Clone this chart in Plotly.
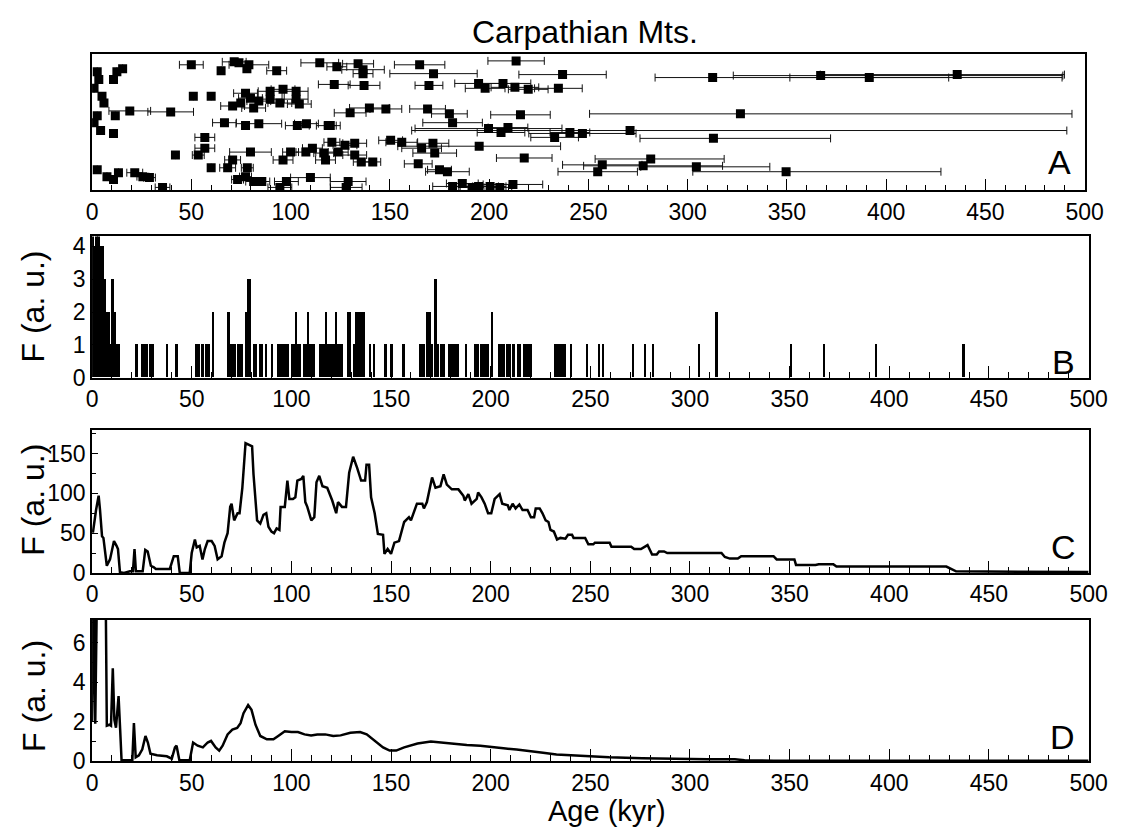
import plotly.graph_objects as go

# ---------------- Panel A: individual ages with uncertainties ----------------
a_age = [2.6, 3.4, 1.0, 5.0, 6.0, 12.5, 15.4, 10.8, 2.6, 1.0, 4.3, 10.8, 11.7, 19, 39.6,
         51, 60, 50, 65, 71.6, 74, 79, 78, 93, 114.7, 122, 77.3, 79.8, 84, 74.9,
         70.8, 81.4, 89.7, 96.2, 102.8, 89.7, 94.6, 102.8, 104.4, 66.7, 77.3, 84, 108, 119, 103.4,
         56.8, 56.8, 53.5, 42, 79.8, 70.8, 68.3, 60, 78.2, 77.3, 73.3, 96.2, 100, 107.7, 111,
         116.7, 117.6, 2.6, 7.5, 10.8, 13.3, 21.5, 25.6, 28.9, 35.5, 81.4, 85.5, 94.6, 97.9, 110,
         123.3, 134, 136.5, 136.5, 165, 172, 213.6, 237, 137, 169.7, 194.7, 198, 207, 213, 219.7,
         234.9, 130, 139.7, 148, 169, 180, 181.6, 215.8, 120, 199.7, 209.5, 206, 233, 240.7, 150.4,
         156, 171.7, 166, 172.6, 195, 217.7, 120.8, 127.4, 132.3, 124, 132.3, 135.6, 141.4, 164.3, 175,
         179, 129, 128, 181.6, 186.5, 191.4, 194.7, 200.5, 205.4, 212, 312.6, 367, 391.5, 435.8, 326.6,
         271, 247, 313, 281.4, 257, 277.6, 304.4, 254.7, 349.6]
a_err_minus = [0, 0, 0, 0, 0, 0, 0, 0, 0, 0, 0, 0, 0, 10.5, 11.5,
               0, 0, 6, 0, 6, 0, 10, 0, 5, 9.5, 8, 6, 6, 6, 0,
               6, 6, 6, 6, 6, 6, 6, 6, 6, 6, 0, 11.5, 6, 6, 6,
               5, 5, 3, 0, 10.5, 4, 4, 0, 3, 3, 3, 5, 4, 5, 5,
               5, 5, 0, 0, 0, 0, 4, 3, 3, 3.7, 4, 4, 6, 6, 10,
               5, 7.8, 10.7, 5, 12.7, 22, 14.2, 22, 8, 7, 12, 10, 14, 12, 10,
               12, 8, 10, 8, 9, 9, 15, 15, 3, 37, 10, 12, 12, 10, 6,
               8, 8, 10, 11, 41, 14, 4, 6, 6, 5, 6, 4, 4, 7, 6,
               11, 9, 8, 10, 8, 6, 10, 8, 6, 15, 29, 44, 40, 69, 76,
               110, 27, 37, 28, 20, 30, 28, 20, 47]
a_err_plus = [0, 0, 0, 0, 0, 0, 0, 0, 0, 0, 0, 0, 0, 10.5, 11.5,
              0, 0, 6, 0, 6, 0, 10, 0, 5, 9.5, 8, 6, 6, 6, 0,
              6, 6, 6, 6, 6, 6, 6, 6, 6, 6, 0, 11.5, 6, 6, 6,
              5, 5, 3, 0, 10.5, 4, 4, 0, 3, 3, 3, 5, 4, 5, 5,
              5, 5, 0, 0, 0, 0, 4, 3, 3, 3.7, 4, 4, 6, 6, 10,
              5, 7.8, 10.7, 5, 12.7, 22, 14.2, 22, 8, 7, 12, 10, 14, 12, 10,
              12, 8, 10, 8, 9, 9, 15, 15, 3, 37, 10, 12, 12, 10, 6,
              8, 8, 10, 11, 41, 14, 4, 6, 6, 5, 6, 4, 4, 7, 6,
              11, 9, 8, 10, 8, 6, 10, 8, 6, 15, 176, 122, 40, 54, 167,
              220, 27, 59, 37, 20, 40, 37, 20, 78]
a_row = [121, 113, 104, 96, 89, 121, 124, 113, 76, 69, 61, 58, 76, 81, 80,
         96, 96, 128, 122, 131, 130, 128, 124, 122, 130, 108, 99, 94, 91, 89,
         86, 84, 101, 103, 101, 93, 89, 93, 88, 69, 66, 68, 68, 66, 66,
         54, 43, 36, 36, 39, 31, 23, 23, 23, 14, 11, 31, 39, 39, 43,
         38, 31, 21, 14, 11, 18, 18, 14, 13, 3, 9, 9, 3, 9, 13,
         126, 129, 123, 119, 128, 119, 132, 118, 107, 107, 109, 104, 109, 105, 103,
         104, 79, 84, 83, 83, 78, 69, 77, 66, 63, 64, 59, 54, 59, 51,
         49, 48, 43, 38, 45, 33, 49, 46, 48, 39, 36, 29, 29, 27, 21,
         19, 9, 3, 4, 7, 3, 4, 4, 3, 6, 115, 117, 115, 118, 78,
         61, 58, 53, 32, 26, 25, 24, 19, 19]

# ---------------- Panel B: number of ages per 1-kyr bin ----------------
b_age = [0, 1, 2, 3, 4, 5, 6, 7, 8, 9, 10, 11, 12, 13,
         22, 25, 26, 27, 29, 30, 37, 42, 52, 53, 55, 57, 58, 60,
         68, 69, 70, 71, 73, 74, 75, 77, 78, 79, 81, 82, 84, 85, 87, 90,
         93, 94, 95, 96, 97, 98, 100, 101, 102, 103, 104, 106, 107, 108, 109, 110, 111,
         114, 115, 116, 117, 118, 119, 120, 121, 122, 123, 124, 125,
         128, 129, 131, 132, 133, 134, 135, 136, 139, 141, 147, 150, 156,
         164, 165, 166, 168, 169, 170, 172, 173, 175, 176, 179, 180, 181, 182, 183, 187,
         192, 193, 195, 196, 197, 198, 200, 204, 205, 206, 208, 209, 211, 213, 214,
         216, 217, 218, 219, 220, 232, 233, 234, 235, 236, 237, 240, 248, 254, 256,
         271, 277, 281, 304, 313, 350, 367, 393, 437]
b_count = [5, 4, 5, 5, 4, 4, 3, 2, 2, 1, 3, 2, 1, 1,
           1, 1, 1, 1, 1, 1, 1, 1, 1, 1, 1, 1, 1, 2,
           2, 1, 1, 1, 1, 1, 1, 2, 3, 3, 1, 1, 1, 1, 1, 1,
           1, 1, 1, 1, 1, 1, 1, 1, 2, 1, 1, 1, 1, 2, 1, 1, 1,
           1, 1, 1, 2, 1, 1, 1, 1, 2, 1, 1, 1,
           2, 2, 1, 2, 2, 2, 2, 2, 1, 1, 1, 1, 1,
           1, 1, 1, 2, 2, 1, 3, 1, 1, 1, 1, 1, 1, 1, 1, 1,
           1, 1, 1, 1, 1, 1, 2, 1, 1, 1, 1, 1, 1, 1, 1,
           1, 1, 1, 1, 1, 1, 1, 1, 1, 1, 1, 1, 1, 1, 1,
           1, 1, 1, 1, 2, 1, 1, 1, 1]

# ---------------- Panel C: running sum ----------------
c_age = [0, 0.5, 2, 3.3, 4, 5, 5.7, 7.4, 9, 11, 12.3, 13, 14, 16, 19, 20.5, 21.3, 22, 25.4, 26.7,
         27.9, 29.5, 31, 32, 39, 41, 43, 44, 49, 50, 51.6, 52.5, 54, 55.4, 56.6, 58, 60, 61.5, 63, 65,
         66.4, 68, 69.3, 70, 71.3, 73, 74, 75.4, 77, 78.7, 80.3, 81, 82.8, 84.4, 86, 87.4, 88.5, 90, 91.3, 92.6,
         94, 94.6, 96.7, 98, 99, 100.8, 102, 103, 105, 106, 107, 108, 110, 111.5, 112.6, 114, 115.6, 118, 120.5, 122.5,
         123.4, 125.4, 127.4, 129, 131, 133, 135, 137, 137.7, 139, 140, 141.8, 143.4, 146, 146.7, 148.3, 150, 151.7, 154, 156.6,
         159, 160, 161.6, 163, 165.7, 166.5, 168, 170.6, 172.3, 174.8, 176.4, 178, 180.5, 183.8, 186.3, 187, 188.8, 190.4, 193, 193.7,
         195.4, 197, 198.7, 200.3, 202, 204.5, 205.8, 208.6, 209.4, 211, 212.5, 214.4, 216, 218.5, 220.2, 221.8, 222.6, 224.6, 226, 227.6,
         229, 230, 231.7, 233.3, 235, 237.5, 238.8, 240.8, 241.6, 247.4, 249, 251.5, 252.3, 259.7, 260.6, 270.5, 272, 275.4, 278.7, 281,
         283.3, 284.5, 287, 288.6, 315.8, 317.5, 320, 324, 325.7, 341.9, 343.5, 352.4, 353.2, 363, 364.6, 371.9, 373.5, 428.6, 431, 433.5,
         500]
c_val = [52, 52, 79, 97, 79, 46, 44, 9, 17, 40, 34, 30, 1, 0, 2, 2, 30, 2, 2, 29,
         27, 9, 7, 5, 5, 21, 21, 0, 0, 25, 42, 32, 34, 17, 30, 40, 40, 34, 17, 21,
         38, 50, 83, 87, 66, 75, 75, 107, 163, 161, 159, 124, 66, 62, 73, 75, 58, 52, 50, 56,
         54, 83, 83, 116, 93, 93, 95, 116, 118, 122, 89, 83, 66, 70, 114, 122, 109, 107, 91, 75,
         89, 83, 83, 126, 146, 132, 116, 116, 136, 136, 95, 75, 49, 48, 24, 30, 24, 38, 40, 64,
         70, 66, 77, 87, 87, 81, 89, 120, 107, 109, 124, 111, 105, 105, 97, 91, 99, 87, 93, 101,
         95, 87, 75, 75, 93, 99, 87, 85, 79, 87, 81, 86, 79, 79, 70, 70, 81, 81, 75, 66,
         64, 54, 52, 42, 44, 43, 48, 48, 44, 44, 36, 36, 38, 38, 33, 33, 30, 30, 35, 23,
         23, 27, 27, 25, 25, 20, 18, 18, 21, 21, 17, 17, 10, 10, 11, 11, 8, 8, 5, 2,
         1]

# ---------------- Panel D: smoothed density ----------------
d_age = [0, 0.8, 1.6, 2.5, 6.8, 7.4, 8.7, 9.5, 10.4, 11.2, 12, 13.3, 14.1, 14.8, 20.2, 21, 21.9, 23.5, 25.2, 26.8,
         28, 29.3, 32.6, 37.5, 40, 41.6, 42.4, 43.8, 49, 50.7, 53, 55.6, 58, 59.7, 62, 63.8, 65.5, 68, 70.4, 72.8,
         74.5, 76, 78.3, 80, 82, 84.4, 87.7, 91, 93.4, 96.7, 100, 103.3, 106.6, 109.9, 113, 117, 121, 124.7, 129.6, 134.5,
         137.8, 141, 146, 149.3, 152.6, 156.6, 163.3, 170, 174.9, 181.5, 188, 194.8, 199.7, 206.4, 213, 219.7, 226.3, 233, 239.5, 249.5,
         259.5, 276, 292.6, 309, 322.5, 327.4, 342, 400, 500]
d_val = [2.0, 9, 1.9, 9, 9, 1.8, 1.85, 1.8, 4.7, 2.1, 1.7, 3.3, 1.6, 0.05, 0.05, 1.93, 0.2, 0.3, 0.6, 1.28,
         0.95, 0.38, 0.3, 0.25, 0.13, 0.7, 0.79, 0.05, 0.05, 0.95, 0.79, 0.7, 0.95, 1.03, 0.7, 0.54, 0.79, 1.36, 1.6, 1.69,
         1.93, 2.43, 2.84, 2.6, 1.85, 1.28, 1.11, 1.11, 1.28, 1.52, 1.48, 1.48, 1.36, 1.31, 1.36, 1.36, 1.28, 1.31, 1.44, 1.48,
         1.36, 1.11, 0.7, 0.54, 0.54, 0.7, 0.9, 1.0, 0.95, 0.87, 0.82, 0.79, 0.75, 0.66, 0.59, 0.52, 0.43, 0.34, 0.3, 0.25,
         0.2, 0.15, 0.11, 0.1, 0.1, 0.05, 0.03, 0.02, 0.02]

FONT = "Liberation Sans, Arial, Helvetica, sans-serif"
W, H = 1134, 839


def px_x(p):
    return p / W


def px_y(p):
    return 1 - p / H


fig = go.Figure()

fig.add_trace(go.Scatter(
    x=a_age, y=a_row, mode="markers", xaxis="x", yaxis="y",
    marker=dict(symbol="square", size=9, color="black"),
    error_x=dict(type="data", symmetric=False, array=a_err_plus, arrayminus=a_err_minus,
                 color="#111111", thickness=1, width=4),
    showlegend=False,
))

fig.add_trace(go.Bar(
    x=b_age, y=b_count, width=1, offset=0, xaxis="x2", yaxis="y2",
    marker=dict(color="black", line=dict(width=0)), showlegend=False,
))

fig.add_trace(go.Scatter(
    x=c_age, y=c_val, mode="lines", xaxis="x3", yaxis="y3",
    line=dict(color="black", width=2.5), showlegend=False,
))

fig.add_trace(go.Scatter(
    x=d_age, y=d_val, mode="lines", xaxis="x4", yaxis="y4",
    line=dict(color="black", width=2.5), showlegend=False,
))


def xaxis_style(domain, anchor):
    return dict(
        domain=domain, anchor=anchor, range=[0, 500], tick0=0, dtick=50,
        ticks="inside", ticklen=12, tickwidth=1.2, tickcolor="black",
        minor=dict(dtick=10, ticks="inside", ticklen=6, tickwidth=1, tickcolor="black"),
        showline=True, linecolor="black", linewidth=1.6, mirror=True,
        showgrid=False, zeroline=False,
        tickfont=dict(family=FONT, size=23, color="black"),
    )


def yaxis_style(domain, anchor, rng, dtick, minor_dtick, show_labels=True):
    d = dict(
        domain=domain, anchor=anchor, range=rng,
        showline=True, linecolor="black", linewidth=1.6, mirror=True,
        showgrid=False, zeroline=False,
        tickfont=dict(family=FONT, size=23, color="black"),
    )
    if show_labels:
        d.update(tick0=0, dtick=dtick, ticks="inside", ticklen=6, tickwidth=1.2,
                 tickcolor="black")
        if minor_dtick:
            d["minor"] = dict(dtick=minor_dtick, ticks="inside", ticklen=4,
                              tickwidth=1, tickcolor="black")
    else:
        d.update(showticklabels=False, ticks="")
    return d


xd_a = [px_x(88), px_x(1103)]
xd = [px_x(88), px_x(1107)]

fig.update_layout(
    width=W, height=H, autosize=False,
    margin=dict(l=0, r=0, t=0, b=0, pad=0),
    paper_bgcolor="white", plot_bgcolor="white",
    bargap=0,
    xaxis=xaxis_style(xd_a, "y"),
    yaxis=yaxis_style([px_y(191), px_y(52)], "x", [0, 139], None, None, show_labels=False),
    xaxis2=xaxis_style(xd, "y2"),
    yaxis2=yaxis_style([px_y(382), px_y(238)], "x2", [0, 4.3], 1, None),
    xaxis3=xaxis_style(xd, "y3"),
    yaxis3=yaxis_style([px_y(581), px_y(435)], "x3", [0, 180], 50, 25),
    xaxis4=xaxis_style(xd, "y4"),
    yaxis4=yaxis_style([px_y(773), px_y(629)], "x4", [0, 7.15], 2, 1),
)

annotations = [
    dict(text="Carpathian Mts.", x=px_x(592), y=px_y(30), size=32),
    dict(text="Age (kyr)", x=px_x(615), y=px_y(824), size=29),
    dict(text="A", x=px_x(1077), y=px_y(162), size=34),
    dict(text="B", x=px_x(1081), y=px_y(366), size=34),
    dict(text="C", x=px_x(1081), y=px_y(555), size=34),
    dict(text="D", x=px_x(1080), y=px_y(748), size=34),
]
for a in annotations:
    fig.add_annotation(text=a["text"], x=a["x"], y=a["y"], xref="paper", yref="paper",
                       showarrow=False, xanchor="center", yanchor="middle",
                       font=dict(family=FONT, size=a["size"], color="black"))

for yc in (309, 506, 706):
    fig.add_annotation(text="F (a. u.)", x=px_x(28), y=px_y(yc), xref="paper", yref="paper",
                       showarrow=False, textangle=-90, xanchor="center", yanchor="middle",
                       font=dict(family=FONT, size=32, color="black"))

fig.write_html("out.html")
